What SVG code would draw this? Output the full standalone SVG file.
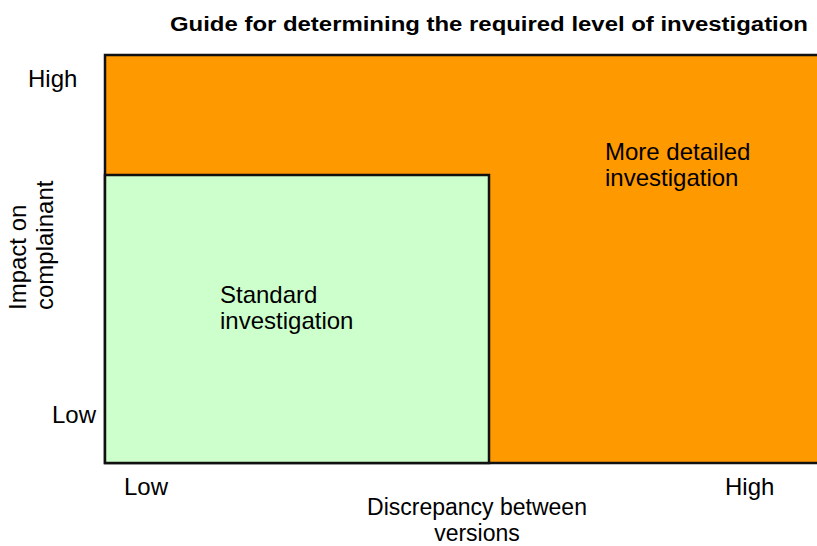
<svg xmlns="http://www.w3.org/2000/svg" width="817" height="546" viewBox="0 0 817 546">
<style>
text{font-family:"Liberation Sans",Arial,sans-serif;font-size:24px;fill:#000}
.title{font-weight:bold;font-size:20px}
.xl{font-size:23px}
.box{stroke:#111;stroke-width:2.5}
</style>
<rect width="817" height="546" fill="#fff"/>
<text class="title" x="170" y="31" textLength="638" lengthAdjust="spacingAndGlyphs">Guide for determining the required level of investigation</text>
<g id="detailed">
<rect class="box" x="105" y="55" width="730" height="408" fill="#FF9900"/>
<text x="605" y="160">More detailed</text>
<text x="605" y="186">investigation</text>
</g>
<g id="standard">
<rect class="box" x="105" y="175" width="384" height="288" fill="#CCFFCC"/>
<text x="220" y="303">Standard</text>
<text x="220" y="329">investigation</text>
</g>
<g id="axes">
<text x="28" y="87">High</text>
<text x="52" y="423">Low</text>
<text transform="translate(26,310) rotate(-90)">Impact on</text>
<text transform="translate(53,310) rotate(-90)">complainant</text>
<text x="124" y="495">Low</text>
<text x="725" y="495">High</text>
<text class="xl" x="477" y="515" text-anchor="middle">Discrepancy between</text>
<text class="xl" x="477" y="541" text-anchor="middle">versions</text>
</g>
</svg>
